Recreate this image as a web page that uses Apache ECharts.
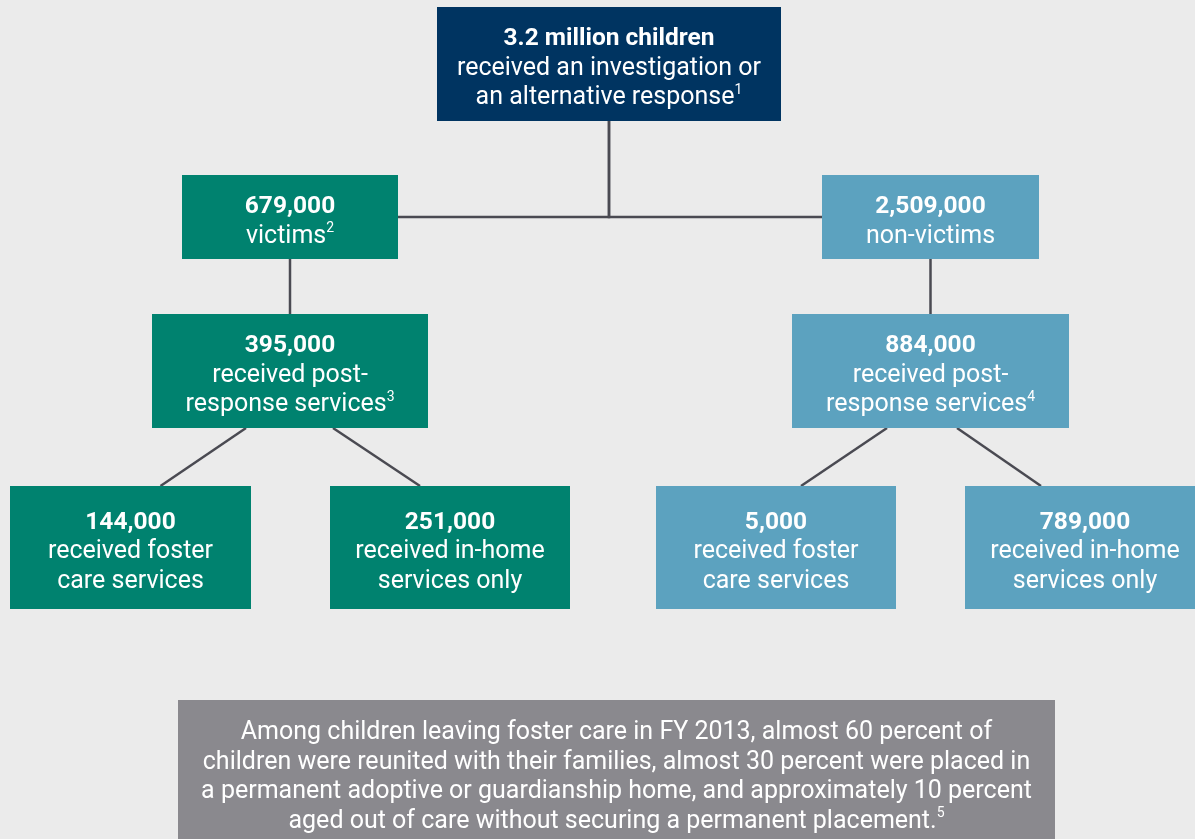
<!DOCTYPE html>
<html>
<head>
<meta charset="utf-8">
<script src="https://cdn.jsdelivr.net/npm/echarts@6/dist/echarts.min.js"></script>
<style>
  html, body { margin: 0; padding: 0; background: #ebebeb; }
  #chart { width: 1195px; height: 839px; }
</style>
</head>
<body>
<div id="chart"></div>
<script>
// node contents (tree order: root, level 1, level 2, level 3)
const nodeNumbers = ['3.2 million children', '679,000', '2,509,000', '395,000', '884,000',
  '144,000', '251,000', '5,000', '789,000'];
const nodeLabels = [
  ['received an investigation or', 'an alternative response'],
  ['victims'],
  ['non-victims'],
  ['received post-', 'response services'],
  ['received post-', 'response services'],
  ['received foster', 'care services'],
  ['received in-home', 'services only'],
  ['received foster', 'care services'],
  ['received in-home', 'services only']
];
const nodeNotes = ['1', '2', '', '3', '4', '', '', '', ''];
const nodeParent = [-1, 0, 0, 1, 2, 3, 3, 4, 4];
const summaryLines = [
  'Among children leaving foster care in FY 2013, almost 60 percent of',
  'children were reunited with their families, almost 30 percent were placed in',
  'a permanent adoptive or guardianship home, and approximately 10 percent',
  'aged out of care without securing a permanent placement.'
];
const summaryNote = '5';

// layout: box centre x, centre y, width, height (in the hidden axes' units)
const nodeBox = [
  [609, 64, 344, 114],
  [290, 217, 216, 84],
  [930.5, 217, 217, 84],
  [290, 371, 276, 114],
  [930.5, 371, 277, 114],
  [130.5, 547.5, 241, 123],
  [450, 547.5, 240, 123],
  [776, 547.5, 240, 123],
  [1085, 547.5, 240, 123]
];
const nodeColor = ['#003461', '#00826f', '#5ca2bf', '#00826f', '#5ca2bf',
  '#00826f', '#00826f', '#5ca2bf', '#5ca2bf'];
const edgeKind = ['', 'elbow', 'elbow', 'straight', 'straight', 'diag', 'diag', 'diag', 'diag'];
// diagonal anchors: offset from parent centre (bottom edge), offset from child centre (top edge)
const edgeAnchor = [null, null, null, null, null, [-44, 30], [43, -30], [-43.5, 25], [26.5, -44]];
const summaryBox = [616.5, 774, 877, 148];

const FONT = 'Roboto, "Noto Sans", sans-serif';
const rich = {
  b: { fill: '#fff', fontFamily: FONT, fontWeight: 'bold', fontSize: 24.5, lineHeight: 29.5 },
  r: { fill: '#fff', fontFamily: FONT, fontSize: 25, lineHeight: 29.5 },
  s: { fill: '#fff', fontFamily: FONT, fontSize: 14, lineHeight: 24, verticalAlign: 'top' }
};

function nodeText(i) {
  const lines = ['{b|' + nodeNumbers[i] + '}'];
  nodeLabels[i].forEach(function (l, k) {
    let t = '{r|' + l + '}';
    if (k === nodeLabels[i].length - 1 && nodeNotes[i]) t += '{s|' + nodeNotes[i] + '}';
    lines.push(t);
  });
  return lines.join('\n');
}

function boxPx(api, b) {
  const c = api.coord([b[0], b[1]]);
  const s = api.size([b[2], b[3]]);
  return { cx: c[0], cy: c[1], w: s[0], h: s[1], x: c[0] - s[0] / 2, y: c[1] - s[1] / 2 };
}

const chart = echarts.init(document.getElementById('chart'));
chart.setOption({
  backgroundColor: '#ebebeb',
  animation: false,
  grid: { left: 0, right: 0, top: 0, bottom: 0 },
  xAxis: { type: 'value', min: 0, max: 1195, show: false },
  yAxis: { type: 'value', min: 0, max: 839, inverse: true, show: false },
  series: [
    {
      // connectors
      type: 'custom',
      z: 1,
      data: nodeParent.map(function (p, i) { return [i, p]; }).filter(function (d) { return d[1] >= 0; }),
      renderItem: function (params, api) {
        const i = api.value(0), p = api.value(1);
        const c = boxPx(api, nodeBox[i]);
        const pa = boxPx(api, nodeBox[p]);
        let pts;
        if (edgeKind[i] === 'elbow') {
          const edge = c.cx < pa.cx ? c.x + c.w : c.x;
          pts = [[pa.cx, pa.y + pa.h], [pa.cx, c.cy], [edge, c.cy]];
        } else if (edgeKind[i] === 'straight') {
          pts = [[c.cx, pa.y + pa.h], [c.cx, c.y]];
        } else {
          pts = [[pa.cx + edgeAnchor[i][0], pa.y + pa.h], [c.cx + edgeAnchor[i][1], c.y]];
        }
        return {
          type: 'polyline',
          shape: { points: pts },
          style: { stroke: '#4a4a52', lineWidth: 2.5, fill: null }
        };
      }
    },
    {
      // boxes
      type: 'custom',
      z: 2,
      data: nodeBox.map(function (b, i) { return [b[0], b[1], b[2], b[3], i]; }),
      renderItem: function (params, api) {
        const i = api.value(4);
        const b = boxPx(api, nodeBox[i]);
        return {
          type: 'group',
          children: [
            { type: 'rect', shape: { x: b.x, y: b.y, width: b.w, height: b.h }, style: { fill: nodeColor[i] } },
            {
              type: 'text',
              style: {
                x: b.cx, y: b.cy + 4.5, text: nodeText(i), rich: rich,
                align: 'center', verticalAlign: 'middle', fill: '#fff'
              }
            }
          ]
        };
      }
    },
    {
      // summary note
      type: 'custom',
      z: 2,
      data: [summaryBox],
      renderItem: function (params, api) {
        const b = boxPx(api, summaryBox);
        const txt = summaryLines.map(function (l, k) {
          return '{r|' + l + '}' + (k === summaryLines.length - 1 ? '{s|' + summaryNote + '}' : '');
        }).join('\n');
        return {
          type: 'group',
          children: [
            { type: 'rect', shape: { x: b.x, y: b.y, width: b.w, height: b.h }, style: { fill: '#8a898e' } },
            {
              type: 'text',
              style: {
                x: b.cx, y: b.cy + 3, text: txt, rich: rich,
                align: 'center', verticalAlign: 'middle', fill: '#fff'
              }
            }
          ]
        };
      }
    }
  ]
});
</script>
</body>
</html>
